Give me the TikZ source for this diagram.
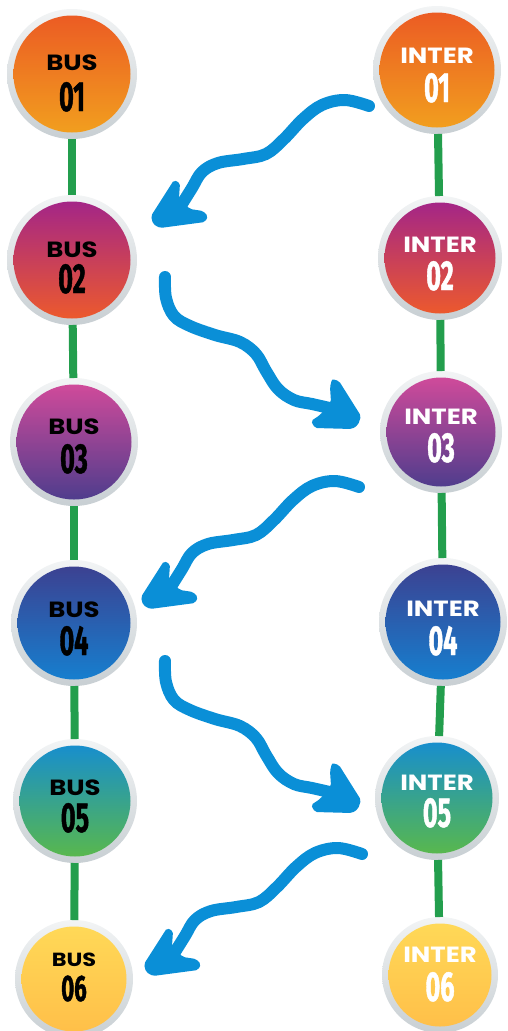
\documentclass[tikz,border=0pt]{standalone}
\usepackage{fontspec}
\usetikzlibrary{calc}
\newfontfamily\labfont[FakeStretch=1.18]{Poppins}
\newfontfamily\numfont[FakeStretch=0.6,FakeBold=1]{Fira Sans}
\definecolor{cat}{RGB}{235,88,36}
\definecolor{cab}{RGB}{242,162,30}
\definecolor{cbt}{RGB}{160,35,140}
\definecolor{cbb}{RGB}{240,92,40}
\definecolor{cct}{RGB}{215,75,155}
\definecolor{ccb}{RGB}{72,60,140}
\definecolor{cdt}{RGB}{62,62,142}
\definecolor{cdb}{RGB}{20,130,210}
\definecolor{cet}{RGB}{20,140,212}
\definecolor{ceb}{RGB}{92,186,70}
\definecolor{cft}{RGB}{255,218,88}
\definecolor{cfb}{RGB}{255,190,72}
\definecolor{ringt}{RGB}{242,244,245}
\definecolor{ringb}{RGB}{200,207,211}
\definecolor{linkc}{RGB}{35,158,77}
\definecolor{arrc}{RGB}{10,143,215}
\tikzset{
  bub/.style n args={3}{circle, inner sep=0pt, outer sep=0pt, minimum size={2*#1pt},
    top color=ringt, bottom color=ringb,
    path picture={\shade[top color=#2, bottom color=#3] (path picture bounding box.center) circle[radius={#1pt-6.5pt}];}},
  lab/.style={anchor=base, inner sep=0pt, font=\labfont\bfseries\fontsize{22}{22}\selectfont},
  slab/.style={anchor=base, inner sep=0pt, font=\labfont\bfseries\fontsize{19}{19}\selectfont},
  num/.style={anchor=base, inner sep=0pt, font=\numfont\bfseries\fontsize{42}{42}\selectfont},
  snum/.style={anchor=base, inner sep=0pt, font=\numfont\bfseries\fontsize{37}{37}\selectfont},
  link/.style={draw=linkc, line width=8pt},
  shaft/.style={draw=arrc, line width=12pt, line cap=round, line join=round},
  ahead/.style={fill=arrc, rounded corners=2pt}
}
\begin{document}
\begin{tikzpicture}[x=1pt,y=-1pt]
\useasboundingbox (0,0) rectangle (508,1031);
% bubbles
\node[bub={65}{cat}{cab}] (b1) at (72,74) {};
\node[bub={65}{cbt}{cbb}] (b2) at (72,260) {};
\node[bub={64}{cct}{ccb}] (b3) at (74,442) {};
\node[bub={63}{cdt}{cdb}] (b4) at (74,623) {};
\node[bub={62}{cet}{ceb}] (b5) at (75,801) {};
\node[bub={59}{cft}{cfb}] (b6) at (74,979) {};
\node[bub={64}{cat}{cab}] (i1) at (437,70) {};
\node[bub={62}{cbt}{cbb}] (i2) at (440,258) {};
\node[bub={61}{cct}{ccb}] (i3) at (441,432) {};
\node[bub={64}{cdt}{cdb}] (i4) at (443,622) {};
\node[bub={62}{cet}{ceb}] (i5) at (437,798) {};
\node[bub={58}{cft}{cfb}] (i6) at (440,975) {};
% links
\draw[link] (b1) -- (b2); \draw[link] (b2) -- (b3); \draw[link] (b3) -- (b4);
\draw[link] (b4) -- (b5); \draw[link] (b5) -- (b6);
\draw[link] (i1) -- (i2); \draw[link] (i2) -- (i3); \draw[link] (i3) -- (i4);
\draw[link] (i4) -- (i5); \draw[link] (i5) -- (i6);
% texts
\node[lab] (b1l) at ($(b1.center)+(0,-4)$) {BUS};
\node[num] (b1n) at ($(b1.center)+(0,37)$) {01};
\node[lab] (b2l) at ($(b2.center)+(0,-3)$) {BUS};
\node[num] (b2n) at ($(b2.center)+(0,33)$) {02};
\node[lab] (b3l) at ($(b3.center)+(0,-8)$) {BUS};
\node[num] (b3n) at ($(b3.center)+(0,31)$) {03};
\node[lab] (b4l) at ($(b4.center)+(0,-6)$) {BUS};
\node[num] (b4n) at ($(b4.center)+(0,32)$) {04};
\node[lab] (b5l) at ($(b5.center)+(0,-6)$) {BUS};
\node[num] (b5n) at ($(b5.center)+(0,31)$) {05};
\node[slab] (b6l) at ($(b6.center)+(0,-13)$) {BUS};
\node[snum] (b6n) at ($(b6.center)+(0,22)$) {06};
\begin{scope}[text=white]
\node[lab] (i1l) at ($(i1.center)+(0,-7)$) {INTER};
\node[num] (i1n) at ($(i1.center)+(0,32)$) {01};
\node[lab] (i2l) at ($(i2.center)+(0,-6)$) {INTER};
\node[num] (i2n) at ($(i2.center)+(0,32)$) {02};
\node[lab] (i3l) at ($(i3.center)+(0,-8)$) {INTER};
\node[num] (i3n) at ($(i3.center)+(0,30)$) {03};
\node[lab] (i4l) at ($(i4.center)+(0,-6)$) {INTER};
\node[num] (i4n) at ($(i4.center)+(0,33)$) {04};
\node[lab] (i5l) at ($(i5.center)+(0,-8)$) {INTER};
\node[num] (i5n) at ($(i5.center)+(0,29)$) {05};
\node[lab] (i6l) at ($(i6.center)+(0,-13)$) {INTER};
\node[num] (i6n) at ($(i6.center)+(0,26)$) {06};
\end{scope}
% arrow start points
\coordinate (a1s) at (372,107);
\coordinate (a3s) at (362,488);
\coordinate (a5s) at (365,855);
\coordinate (a2s) at (164,276);
\coordinate (a4s) at (164,660);
% left-down arrows
\foreach \s in {a1s,a3s,a5s}{
\begin{scope}[shift={(\s)}]
\draw[shaft] plot[smooth, tension=0.6] coordinates {(-3,-1) (-27,-7) (-50,-2) (-69,12) (-88,32) (-106,47) (-129,52) (-154,56) (-170,65) (-180,81) (-190,97)};
\fill[ahead] (-198,73) -- (-192,76) -- (-193,91) -- (-182,102) -- (-169,104) -- (-164,109) -- (-167,115) -- (-212,121) -- (-219,117) -- (-221,109) -- cycle;
\end{scope}}
% right-down arrows
\foreach \s in {a2s,a4s}{
\begin{scope}[shift={(\s)}]
\draw[shaft] plot[smooth, tension=0.6] coordinates {(1,1) (2,22) (10,40) (26,50) (51,59) (76,66) (92,78) (102,95) (114,113) (130,124) (148,128) (170,133)};
\fill[ahead] (168,103) -- (175,105) -- (197,140) -- (194,149) -- (188,153) -- (151,152) -- (147,145) -- (156,139) -- (167,126) -- (166,111) -- cycle;
\end{scope}}
\end{tikzpicture}
\end{document}
